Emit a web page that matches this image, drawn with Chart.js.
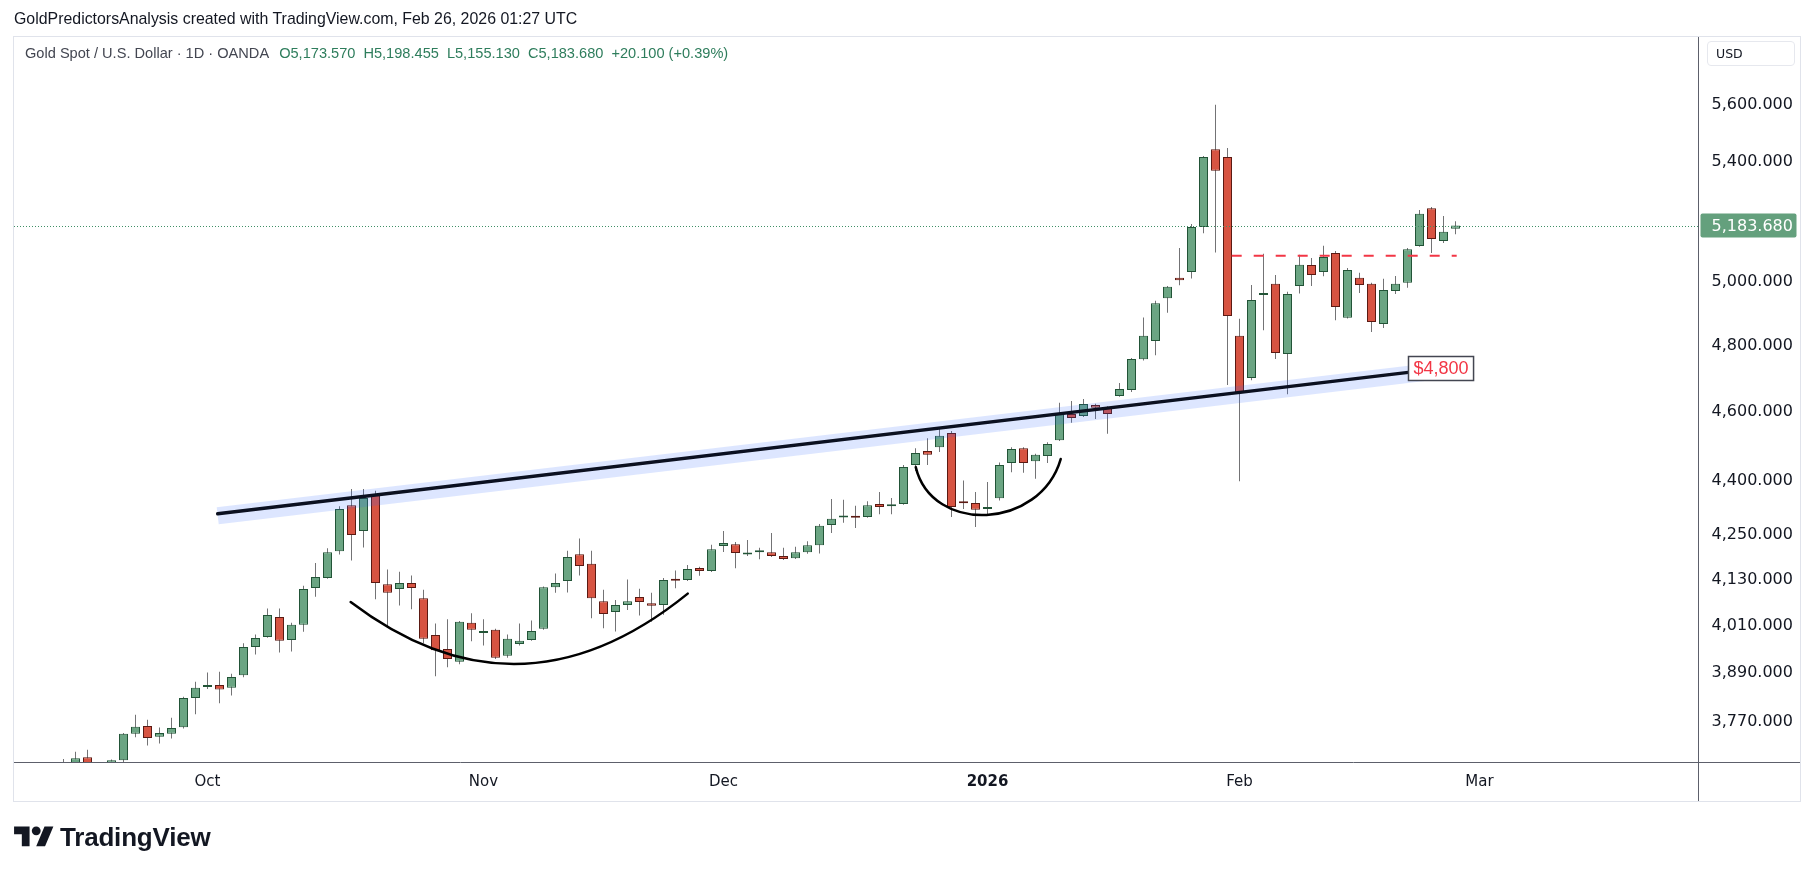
<!DOCTYPE html>
<html>
<head>
<meta charset="utf-8">
<script src="https://cdn.jsdelivr.net/npm/chart.js@4.4.1/dist/chart.umd.min.js"></script>
<style>
  html, body { margin: 0; padding: 0; background: #fff; }
  #wrap { position: relative; width: 1814px; height: 877px; overflow: hidden; }
  #c { position: absolute; left: 0; top: 0; }
  .txt { position: absolute; white-space: nowrap; font-family: "Liberation Sans", Arial, sans-serif; }
  #title { left: 14px; top: 10px; font-size: 15.9px; color: #131722; }
  #legend { left: 25px; top: 45px; font-size: 14.6px; color: #434651; }
  #legend .v { color: #2e7d5c; margin-left: 8px; }
  #usd { left: 1707px; top: 41px; width: 88px; height: 25px; box-sizing: border-box; border: 1px solid #e6e8ee;
         border-radius: 4px; font-family: "DejaVu Sans", sans-serif; font-size: 12.5px; line-height: 23px;
         padding-left: 8px; color: #131722; }
  #brand { left: 14px; top: 822px; display: flex; align-items: center; }
  #brand span { font-family: "Liberation Sans", Arial, sans-serif; font-weight: bold; font-size: 26px; color: #131722; margin-left: 6px; letter-spacing: -0.2px; }
</style>
</head>
<body>
<div id="wrap">
  <canvas id="c" width="1814" height="877"></canvas>
  <div class="txt" id="title">GoldPredictorsAnalysis created with TradingView.com, Feb 26, 2026 01:27 UTC</div>
  <div class="txt" id="legend"></div>
  <div class="txt" id="usd">USD</div>
  <div class="txt" id="brand">
    <svg width="40" height="31" viewBox="0 0 36 28"><path fill="#131722" d="M14 22H7V11H0V4h14v18zM28 22h-8l7.5-18h8L28 22z"/><circle fill="#131722" cx="20" cy="8" r="4"/></svg>
    <span>TradingView</span>
  </div>
</div>
<script>
// --- calendar (daily bars, weekends and two holidays skipped) ---
const firstDay = "2025-09-15";
const holidays = ["2025-12-25", "2026-01-01"];
const monthNames = ["Jan", "Feb", "Mar", "Apr", "May", "Jun", "Jul", "Aug", "Sep", "Oct", "Nov", "Dec"];

// --- OHLC, XAUUSD 1D ---
const openP = [
  3640, 3662, 3686, 3665, 3648, 3679, 3742, 3761, 3735, 3742,
  3758, 3829, 3856, 3861, 3854, 3885, 3956, 3982, 4033, 3974,
  4013, 4109, 4135, 4207, 4333, 4262, 4361, 4119, 4106, 4122,
  4082, 3987, 3951, 3919, 4018, 3992, 4000, 3934, 3964, 3974,
  4003, 4111, 4127, 4199, 4173, 4074, 4046, 4064, 4085, 4069,
  4064, 4130, 4130, 4162, 4154, 4221, 4226, 4198, 4204, 4204,
  4194, 4188, 4204, 4223, 4278, 4299, 4303, 4300, 4336, 4330,
  4336, 4446, 4486, 4497, 4538, 4340, 4339, 4322, 4352, 4452,
  4494, 4457, 4472, 4517, 4594, 4588, 4620, 4614, 4647, 4665,
  4758, 4814, 4948, 5013, 5032, 5179, 5444, 5417, 4830, 4701,
  4958, 4994, 4774, 4987, 5054, 5032, 5093, 4886, 5013, 4994,
  4867, 4971, 4997, 5116, 5242, 5133, 5173.57
];
const highP = [
  3682, 3699, 3704, 3672, 3681, 3744, 3788, 3776, 3757, 3781,
  3832, 3869, 3892, 3894, 3889, 3966, 3988, 4055, 4055, 4018,
  4115, 4175, 4215, 4330, 4378, 4378, 4373, 4158, 4152, 4142,
  4104, 4016, 4027, 4023, 4043, 4027, 4003, 3988, 4016, 4024,
  4113, 4147, 4208, 4241, 4208, 4104, 4077, 4131, 4107, 4096,
  4135, 4155, 4170, 4165, 4224, 4262, 4232, 4237, 4216, 4256,
  4216, 4219, 4234, 4281, 4350, 4348, 4331, 4344, 4370, 4353,
  4446, 4494, 4523, 4550, 4544, 4402, 4370, 4398, 4453, 4497,
  4497, 4478, 4511, 4627, 4632, 4638, 4624, 4617, 4686, 4762,
  4887, 4940, 4987, 5110, 5189, 5420, 5601, 5448, 4883, 4990,
  5091, 5022, 4968, 5088, 5077, 5117, 5100, 5045, 5029, 4997,
  5010, 5019, 5110, 5236, 5246, 5216, 5198.455
];
const lowP = [
  3625, 3650, 3655, 3630, 3640, 3672, 3734, 3714, 3719, 3731,
  3755, 3789, 3851, 3816, 3835, 3880, 3937, 3980, 3942, 3945,
  3995, 4086, 4133, 4198, 4182, 4217, 4079, 4009, 4063, 4053,
  3966, 3883, 3905, 3913, 3971, 3960, 3926, 3929, 3960, 3972,
  4000, 4096, 4097, 4142, 4030, 4004, 3996, 4051, 4037, 4021,
  4039, 4108, 4127, 4141, 4151, 4205, 4161, 4194, 4185, 4191,
  4183, 4186, 4200, 4201, 4256, 4284, 4270, 4298, 4308, 4308,
  4334, 4429, 4446, 4483, 4300, 4322, 4273, 4306, 4346, 4425,
  4424, 4407, 4452, 4515, 4568, 4585, 4579, 4536, 4645, 4659,
  4754, 4770, 4902, 4989, 5011, 5158, 5095, 4680, 4400, 4694,
  4847, 4759, 4652, 4963, 4987, 5018, 4878, 4884, 4964, 4842,
  4854, 4961, 4981, 5114, 5093, 5126, 5155.13
];
const closeP = [
  3662, 3684, 3665, 3645, 3679, 3742, 3759, 3732, 3744, 3756,
  3829, 3854, 3861, 3850, 3881, 3956, 3979, 4038, 3972, 4013,
  4106, 4138, 4204, 4322, 4251, 4353, 4122, 4096, 4122, 4109,
  3977, 3948, 3926, 4021, 4000, 3997, 3929, 3977, 3972, 3997,
  4111, 4122, 4191, 4167, 4082, 4041, 4064, 4074, 4072, 4062,
  4130, 4128, 4159, 4154, 4212, 4229, 4202, 4200, 4206, 4194,
  4186, 4204, 4223, 4276, 4295, 4301, 4298, 4333, 4328, 4332,
  4440, 4480, 4475, 4530, 4328, 4338, 4320, 4328, 4446, 4492,
  4452, 4475, 4506, 4594, 4582, 4623, 4612, 4594, 4668, 4759,
  4830, 4932, 4984, 5005, 5179, 5417, 5369, 4892, 4656, 4942,
  4960, 4777, 4961, 5055, 5022, 5080, 4920, 5038, 4990, 4873,
  4974, 4994, 5106, 5223, 5139, 5163.58, 5183.68
];

// --- price scale ---
const yTicks = [3770, 3890, 4010, 4130, 4250, 4400, 4600, 4800, 5000, 5400, 5600];
const yMin = 3675;
const yMax = 5850;

// --- visible bar range (index units) ---
const xMin = -4.125;
const xMax = 136.25;

// --- drawings on the chart: [bar index, price] ---
const trendFrom = [12.85, 4309];
const trendTo = [112.07, 4718];
const bandEndIdx = 116.0;
const trendLabel = "$4,800";
const cupLarge = [[23.93, 4072], [37.98, 3751], [52.02, 4094]];
const cupSmall = [[71.02, 4440], [72.38, 4252], [81.38, 4265], [83.1, 4463]];
const resistance = { from: 97.35, to: 116.1, price: 5084.5 };

// colours
const upFill = "#6ba583", upLine = "#225437";
const downFill = "#d75442", downLine = "#5b1a13";
const wickCol = "#737375";

// ======================================================
const calendar = [];
(function () {
  const d = new Date(firstDay + "T00:00:00Z");
  while (calendar.length < 145) {
    const iso = d.toISOString().slice(0, 10);
    const wd = d.getUTCDay();
    if (wd !== 0 && wd !== 6 && !holidays.includes(iso)) calendar.push(iso);
    d.setUTCDate(d.getUTCDate() + 1);
  }
})();

const monthTicks = [];
calendar.forEach((iso, i) => {
  if (i === 0 || i > xMax - 1 || iso.slice(5, 7) === calendar[i - 1].slice(5, 7)) return;
  const m = +iso.slice(5, 7) - 1;
  monthTicks.push({ value: i, label: m === 0 ? iso.slice(0, 4) : monthNames[m], year: m === 0 });
});

const fmt3 = v => v.toLocaleString("en-US", { minimumFractionDigits: 3, maximumFractionDigits: 3 });

// legend line
const n = closeP.length - 1;
const chg = closeP[n] - closeP[n - 1];
const pct = chg / closeP[n - 1] * 100;
document.getElementById("legend").innerHTML =
  "Gold Spot / U.S. Dollar · 1D · OANDA" +
  '<span class="v" style="margin-left:10px">O' + fmt3(openP[n]) + "</span>" +
  '<span class="v">H' + fmt3(highP[n]) + "</span>" +
  '<span class="v">L' + fmt3(lowP[n]) + "</span>" +
  '<span class="v">C' + fmt3(closeP[n]) + "</span>" +
  '<span class="v">' + (chg >= 0 ? "+" : "") + chg.toFixed(3) + " (" + (pct >= 0 ? "+" : "") + pct.toFixed(2) + "%)</span>";

const isUp = i => closeP[i] >= openP[i];

// ======================================================
// drawings plugin
const drawings = {
  id: "drawings",
  afterDatasetsDraw(chart) {
    const { ctx, chartArea: a, scales: { x, y } } = chart;
    const P = p => [x.getPixelForValue(p[0]), y.getPixelForValue(p[1])];
    ctx.save();
    ctx.beginPath();
    ctx.rect(a.left, a.top, a.width, a.height);
    ctx.clip();

    // last price line
    const ly = Math.round(y.getPixelForValue(closeP[n])) + 0.5;
    ctx.strokeStyle = "#3f8f66";
    ctx.lineWidth = 1;
    ctx.setLineDash([1, 2]);
    ctx.beginPath();
    ctx.moveTo(a.left, ly);
    ctx.lineTo(a.right, ly);
    ctx.stroke();
    ctx.setLineDash([]);

    // trend band + trend line
    const [x1, y1] = P(trendFrom);
    const [x2, y2] = P(trendTo);
    const xb = x.getPixelForValue(bandEndIdx);
    const yb = y1 + (y2 - y1) * (xb - x1) / (x2 - x1);
    ctx.strokeStyle = "rgba(41, 98, 255, 0.16)";
    ctx.lineWidth = 17;
    ctx.beginPath();
    ctx.moveTo(x1, y1 + 2);
    ctx.lineTo(xb, yb + 2);
    ctx.stroke();

    ctx.strokeStyle = "#0b1020";
    ctx.lineWidth = 3.5;
    ctx.lineCap = "round";
    ctx.beginPath();
    ctx.moveTo(x1, y1);
    ctx.lineTo(x2, y2);
    ctx.stroke();

    // cups
    ctx.lineWidth = 2.5;
    ctx.strokeStyle = "#000";
    let q = cupLarge.map(P);
    ctx.beginPath();
    ctx.moveTo(q[0][0], q[0][1]);
    ctx.quadraticCurveTo(q[1][0], q[1][1], q[2][0], q[2][1]);
    ctx.stroke();
    q = cupSmall.map(P);
    ctx.beginPath();
    ctx.moveTo(q[0][0], q[0][1]);
    ctx.bezierCurveTo(q[1][0], q[1][1], q[2][0], q[2][1], q[3][0], q[3][1]);
    ctx.stroke();

    // dashed resistance
    const ry = y.getPixelForValue(resistance.price);
    ctx.strokeStyle = "#f23645";
    ctx.lineWidth = 2;
    ctx.lineCap = "butt";
    ctx.setLineDash([10, 12]);
    ctx.beginPath();
    ctx.moveTo(x.getPixelForValue(resistance.from), ry);
    ctx.lineTo(x.getPixelForValue(resistance.to), ry);
    ctx.stroke();
    ctx.setLineDash([]);

    // label at trend end
    ctx.font = "18px 'Liberation Sans', Arial, sans-serif";
    const tw = ctx.measureText(trendLabel).width;
    const bx = Math.round(x2) + 0.5, by = Math.round(y2 - 16) + 0.5;
    ctx.fillStyle = "#fff";
    ctx.fillRect(bx, by, tw + 10, 24);
    ctx.strokeStyle = "#434651";
    ctx.lineWidth = 1.5;
    ctx.strokeRect(bx, by, tw + 10, 24);
    ctx.fillStyle = "#f23645";
    ctx.textBaseline = "middle";
    ctx.fillText(trendLabel, bx + 5, by + 12.5);
    ctx.restore();
  },
  afterDraw(chart) {
    const { ctx, chartArea: a, scales: { y } } = chart;
    ctx.save();
    // frame and separators
    ctx.strokeStyle = "#e0e3eb";
    ctx.lineWidth = 1;
    ctx.strokeRect(13.5, 36.5, 1787, 765);
    ctx.strokeStyle = "#5d606b";
    ctx.beginPath();
    ctx.moveTo(14, a.bottom + 0.5);
    ctx.lineTo(1800, a.bottom + 0.5);
    ctx.moveTo(a.right, 37);
    ctx.lineTo(a.right, 801);
    ctx.stroke();
    // last price tag
    const ly = y.getPixelForValue(closeP[n]);
    ctx.fillStyle = "#64a07d";
    ctx.beginPath();
    ctx.roundRect(a.right + 2, ly - 12, 96, 24, 2);
    ctx.fill();
    ctx.fillStyle = "#fff";
    ctx.font = "16px 'DejaVu Sans', sans-serif";
    ctx.textBaseline = "middle";
    ctx.fillText(fmt3(closeP[n]), a.right + 13, ly + 1);
    ctx.restore();
  }
};

// ======================================================
const bodies = closeP.map((c, i) => ({ x: i, y: [openP[i], c] }));
const wicks = highP.map((h, i) => ({ x: i, y: [lowP[i], h] }));

new Chart(document.getElementById("c"), {
  type: "bar",
  data: {
    datasets: [
      {
        label: "body",
        data: bodies,
        order: 0,
        grouped: false,
        barThickness: 9,
        minBarLength: 2,
        borderWidth: 1,
        borderSkipped: false,
        inflateAmount: 0,
        backgroundColor: c => (isUp(c.dataIndex) ? upFill : downFill),
        borderColor: c => (isUp(c.dataIndex) ? upLine : downLine)
      },
      {
        label: "wick",
        data: wicks,
        order: 1,
        grouped: false,
        barThickness: 1,
        borderWidth: 0,
        inflateAmount: 0,
        backgroundColor: wickCol
      }
    ]
  },
  options: {
    responsive: false,
    animation: false,
    events: [],
    layout: { padding: { left: 14, right: 14, top: 37, bottom: 76 } },
    plugins: { legend: { display: false }, tooltip: { enabled: false } },
    scales: {
      x: {
        type: "linear",
        min: xMin,
        max: xMax,
        offset: false,
        grid: { display: false, drawTicks: false },
        border: { display: false },
        afterBuildTicks: s => { s.ticks = monthTicks.map(t => ({ value: t.value })); },
        afterFit: s => { s.height = 39; },
        ticks: {
          autoSkip: false,
          maxRotation: 0,
          padding: 11,
          color: "#131722",
          font: c => ({
            family: "'DejaVu Sans', sans-serif",
            size: 15,
            weight: c.tick && monthTicks.find(t => t.value === c.tick.value && t.year) ? "bold" : "normal"
          }),
          callback: v => (monthTicks.find(t => t.value === v) || { label: "" }).label
        }
      },
      y: {
        type: "logarithmic",
        position: "right",
        min: yMin,
        max: yMax,
        grid: { display: false, drawTicks: false },
        border: { display: false },
        afterBuildTicks: s => { s.ticks = yTicks.map(v => ({ value: v })); },
        afterFit: s => { s.width = 101.5; },
        ticks: {
          autoSkip: false,
          padding: 13,
          color: "#131722",
          font: { family: "'DejaVu Sans', sans-serif", size: 16 },
          callback: v => fmt3(v)
        }
      }
    }
  },
  plugins: [drawings]
});
</script>
</body>
</html>
